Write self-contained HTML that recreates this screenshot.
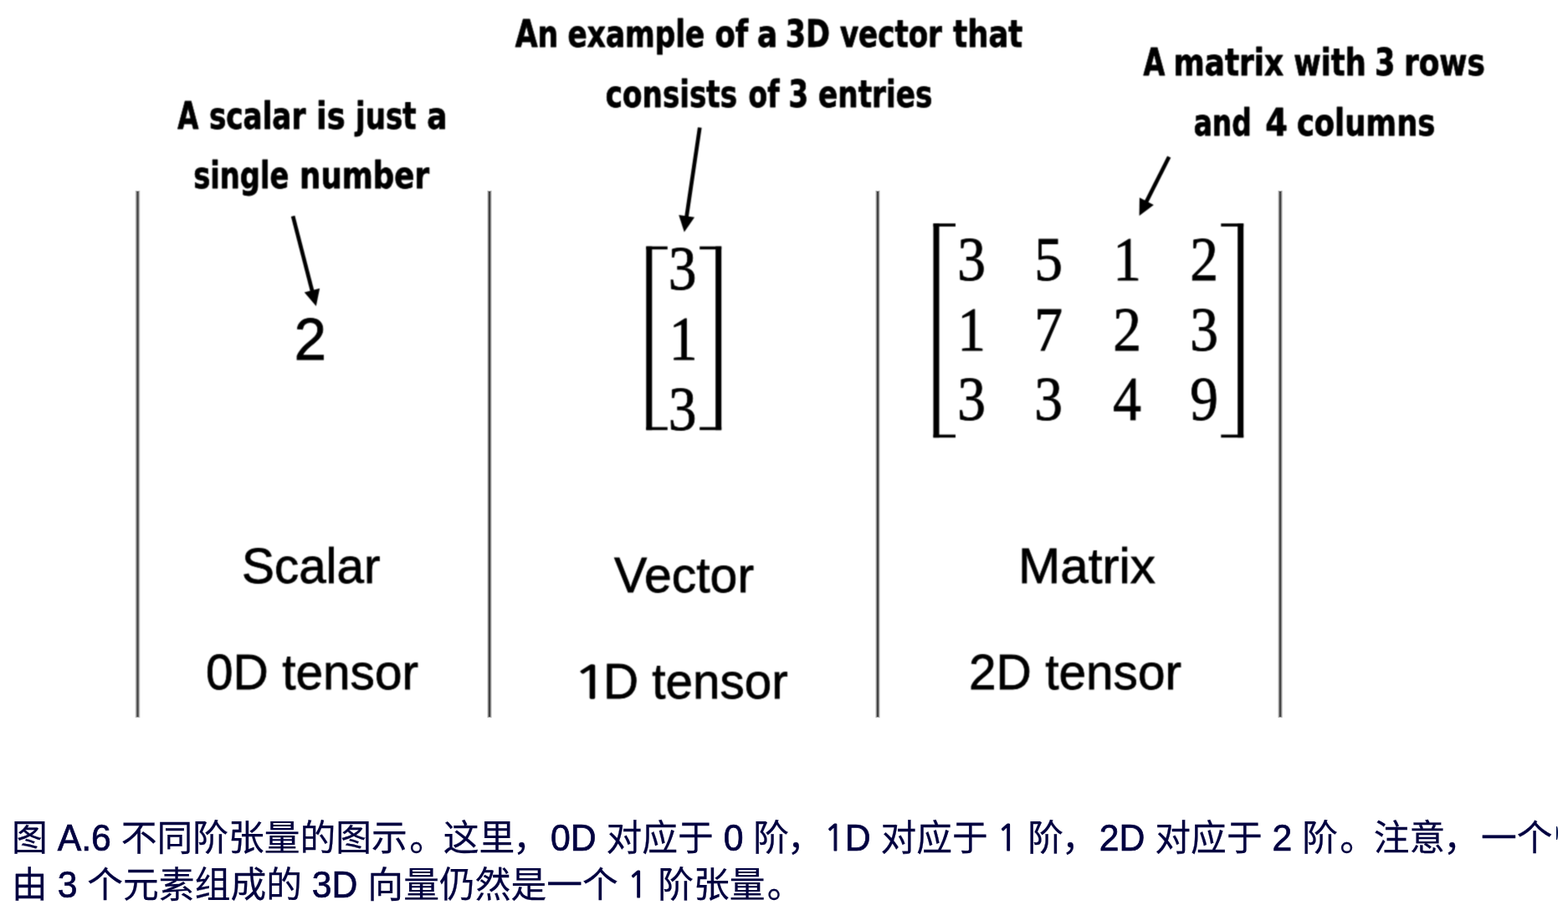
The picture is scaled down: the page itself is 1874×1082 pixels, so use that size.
<!DOCTYPE html>
<html lang="zh-CN">
<head>
<meta charset="utf-8">
<title>图 A.6 不同阶张量的图示</title>
<style>
html,body{margin:0;padding:0;background:#fff;}
body{width:1874px;height:1082px;overflow:hidden;position:relative;font-family:"Liberation Sans","Noto Sans CJK SC",sans-serif;}
#fig{position:absolute;left:0;top:0;width:1874px;height:900px;}
#fig text{fill:#000;}
.ann text{font-family:"DejaVu Sans Condensed","DejaVu Sans","Liberation Sans",sans-serif;font-weight:bold;font-size:45px;stroke:#000;stroke-width:0.8px;stroke-linejoin:round;}
.lab text{font-family:"Liberation Sans",sans-serif;font-size:59.5px;stroke:#000;stroke-width:0.8px;}
.num text{font-family:"Liberation Serif",serif;font-size:75px;text-anchor:middle;stroke:#000;stroke-width:0.9px;}
.lab text.one{font-family:"NanumGothic","Liberation Sans",sans-serif;stroke-width:1.3px;text-anchor:middle;}
.two{font-family:"Liberation Sans",sans-serif;font-size:69.5px;text-anchor:middle;stroke:#000;stroke-width:0.8px;}
.cap{position:absolute;left:13.7px;top:974.3px;width:1847.8px;height:120px;overflow:hidden;white-space:nowrap;will-change:transform;
 font-family:"Liberation Sans","Noto Sans CJK SC",sans-serif;font-size:42.77px;line-height:56px;color:#000040;margin:0;}
.cap .ln{position:absolute;left:0;white-space:nowrap;-webkit-text-stroke:0.25px #000040;}
.cap .l{display:inline-block;transform:scaleY(1.05);transform-origin:0 76.5%;-webkit-text-stroke:0.7px #000040;}
.cap .pc,.cap .pp{position:relative;left:-2.3px;}
.cap .pp{left:2.3px;}
.cap .o{display:inline-block;font-size:0.94em;width:0.5915em;text-align:center;position:relative;left:-0.8px;font-family:"NanumGothic","Liberation Sans",sans-serif;-webkit-text-stroke:1.1px #000040;}
.sliver{position:absolute;left:1859.6px;top:988px;width:2.2px;height:16px;background:#00104a;border-radius:0 60% 60% 0/0 50% 50% 0;}
</style>
</head>
<body>
<svg id="fig" width="1874" height="900" viewBox="0 0 1874 900">
 <filter id="soft" filterUnits="userSpaceOnUse" x="0" y="0" width="1874" height="900" color-interpolation-filters="sRGB">
  <feConvolveMatrix order="3" kernelMatrix="0.0361 0.1178 0.0361 0.1178 0.3846 0.1178 0.0361 0.1178 0.0361" edgeMode="none" preserveAlpha="false"/>
 </filter>
 <g>
  <rect x="161.50" y="227.80" width="6" height="630.40" fill="#d7d7d7"/>
  <rect x="162.50" y="228.40" width="4" height="629.20" fill="#969696"/>
  <rect x="163.50" y="229.00" width="2" height="628.00" fill="#454545"/>
  <rect x="582.00" y="227.80" width="6" height="630.40" fill="#d7d7d7"/>
  <rect x="583.00" y="228.40" width="4" height="629.20" fill="#969696"/>
  <rect x="584.00" y="229.00" width="2" height="628.00" fill="#454545"/>
  <rect x="1046.00" y="227.80" width="6" height="630.40" fill="#d7d7d7"/>
  <rect x="1047.00" y="228.40" width="4" height="629.20" fill="#969696"/>
  <rect x="1048.00" y="229.00" width="2" height="628.00" fill="#454545"/>
  <rect x="1527.10" y="227.80" width="6" height="630.40" fill="#d7d7d7"/>
  <rect x="1528.10" y="228.40" width="4" height="629.20" fill="#969696"/>
  <rect x="1529.10" y="229.00" width="2" height="628.00" fill="#454545"/>
 </g>
 <g filter="url(#soft)">
 <g class="ann">
  <text x="615.70" y="56.20" textLength="51.52" lengthAdjust="spacingAndGlyphs">An</text>
  <text x="678.55" y="56.20" textLength="163.72" lengthAdjust="spacingAndGlyphs">example</text>
  <text x="854.43" y="56.20" textLength="39.67" lengthAdjust="spacingAndGlyphs">of</text>
  <text x="905.02" y="56.20" textLength="24.13" lengthAdjust="spacingAndGlyphs">a</text>
  <text x="938.78" y="56.20" textLength="53.27" lengthAdjust="spacingAndGlyphs">3D</text>
  <text x="1003.90" y="56.20" textLength="122.00" lengthAdjust="spacingAndGlyphs">vector</text>
  <text x="1139.30" y="56.20" textLength="82.95" lengthAdjust="spacingAndGlyphs">that</text>

  <text x="723.86" y="127.50" textLength="157.15" lengthAdjust="spacingAndGlyphs">consists</text>
  <text x="894.59" y="127.50" textLength="36.84" lengthAdjust="spacingAndGlyphs">of</text>
  <text x="942.62" y="127.50" textLength="23.64" lengthAdjust="spacingAndGlyphs">3</text>
  <text x="978.05" y="127.50" textLength="136.24" lengthAdjust="spacingAndGlyphs">entries</text>

  <text x="212.20" y="154.00" textLength="25.08" lengthAdjust="spacingAndGlyphs">A</text>
  <text x="249.91" y="154.00" textLength="115.42" lengthAdjust="spacingAndGlyphs">scalar</text>
  <text x="378.06" y="154.00" textLength="34.63" lengthAdjust="spacingAndGlyphs">is</text>
  <text x="425.08" y="154.00" textLength="72.45" lengthAdjust="spacingAndGlyphs">just</text>
  <text x="510.31" y="154.00" textLength="24.24" lengthAdjust="spacingAndGlyphs">a</text>

  <text x="231.13" y="224.70" textLength="114.19" lengthAdjust="spacingAndGlyphs">single</text>
  <text x="358.06" y="224.70" textLength="154.99" lengthAdjust="spacingAndGlyphs">number</text>

  <text x="1366.40" y="90.00" textLength="25.76" lengthAdjust="spacingAndGlyphs">A</text>
  <text x="1402.55" y="90.00" textLength="131.59" lengthAdjust="spacingAndGlyphs">matrix</text>
  <text x="1546.33" y="90.00" textLength="86.40" lengthAdjust="spacingAndGlyphs">with</text>
  <text x="1642.97" y="90.00" textLength="24.37" lengthAdjust="spacingAndGlyphs">3</text>
  <text x="1677.94" y="90.00" textLength="97.01" lengthAdjust="spacingAndGlyphs">rows</text>

  <text x="1426.69" y="162.40" textLength="69.05" lengthAdjust="spacingAndGlyphs">and</text>
  <text x="1512.25" y="162.40" textLength="26.65" lengthAdjust="spacingAndGlyphs">4</text>
  <text x="1549.93" y="162.40" textLength="165.39" lengthAdjust="spacingAndGlyphs">columns</text>
 </g>
 <g fill="#000" stroke="#000" stroke-width="4.7" stroke-linecap="butt">
  <line x1="350.10" y1="258.40" x2="373.44" y2="349.05"/>
  <polygon stroke="none" points="377.80,366.00 363.74,349.48 382.14,344.75"/>
  <line x1="836.30" y1="152.50" x2="820.36" y2="260.29"/>
  <polygon stroke="none" points="817.80,277.60 811.25,256.92 830.05,259.70"/>
  <line x1="1397.20" y1="187.50" x2="1369.49" y2="242.38"/>
  <polygon stroke="none" points="1361.60,258.00 1361.91,236.31 1378.87,244.88"/>
 </g>
 <text class="two" x="370.8" y="430.3">2</text>
 <g class="num">
  <text transform="translate(815.50 346.00) scale(0.9 1)">3</text>
  <text transform="translate(816.50 430.00) scale(0.9 1)">1</text>
  <text transform="translate(815.50 513.50) scale(0.9 1)">3</text>
  <text transform="translate(1161.00 335.20) scale(0.9 1)">3</text>
  <text transform="translate(1253.20 335.20) scale(0.9 1)">5</text>
  <text transform="translate(1347.20 335.20) scale(0.9 1)">1</text>
  <text transform="translate(1439.10 335.20) scale(0.9 1)">2</text>
  <text transform="translate(1161.00 418.60) scale(0.9 1)">1</text>
  <text transform="translate(1253.20 418.60) scale(0.9 1)">7</text>
  <text transform="translate(1347.20 418.60) scale(0.9 1)">2</text>
  <text transform="translate(1439.10 418.60) scale(0.9 1)">3</text>
  <text transform="translate(1161.00 502.20) scale(0.9 1)">3</text>
  <text transform="translate(1253.20 502.20) scale(0.9 1)">3</text>
  <text transform="translate(1347.20 502.20) scale(0.9 1)">4</text>
  <text transform="translate(1439.10 502.20) scale(0.9 1)">9</text>
 </g>
 <g fill="#000">
  <rect x="772.30" y="294.60" width="7.00" height="219.60"/>
  <rect x="772.30" y="294.60" width="25.50" height="3.60"/>
  <rect x="772.30" y="510.60" width="25.50" height="3.60"/>
  <rect x="855.20" y="294.60" width="7.00" height="219.60"/>
  <rect x="836.20" y="294.60" width="26.00" height="3.60"/>
  <rect x="836.20" y="510.60" width="26.00" height="3.60"/>
  <rect x="1115.50" y="267.20" width="7.00" height="256.00"/>
  <rect x="1115.50" y="267.20" width="26.50" height="3.60"/>
  <rect x="1115.50" y="519.60" width="26.50" height="3.60"/>
  <rect x="1479.20" y="267.20" width="7.00" height="256.00"/>
  <rect x="1459.30" y="267.20" width="26.90" height="3.60"/>
  <rect x="1459.30" y="519.60" width="26.90" height="3.60"/>
 </g>
 <g class="lab">
  <text x="289.00" y="697.20" textLength="165.50" lengthAdjust="spacingAndGlyphs">Scalar</text>
  <text x="246.00" y="824.30" textLength="254.00" lengthAdjust="spacingAndGlyphs">0D tensor</text>
  <text x="734.00" y="708.20" textLength="167.00" lengthAdjust="spacingAndGlyphs">Vector</text>
  <text class="one" transform="translate(705.80 835.20) scale(1.3 1)" style="font-size:54.5px">1</text>
  <text x="721.00" y="835.20" textLength="220.60" lengthAdjust="spacingAndGlyphs">D tensor</text>
  <text x="1217.00" y="697.20" textLength="164.00" lengthAdjust="spacingAndGlyphs">Matrix</text>
  <text x="1158.00" y="824.30" textLength="254.00" lengthAdjust="spacingAndGlyphs">2D tensor</text>
 </g>
 </g>
</svg>
<p class="cap"><span class="ln" style="top:0px;left:0px">图 <span class="l">A.6</span> 不同阶张量的图示<span class="pp">。</span>这里<span class="pc">，</span><span class="l">0D</span> 对应于 <span class="l">0</span> 阶<span class="pc">，</span><span class="l"><span class="o">1</span>D</span> 对应于 <span class="l"><span class="o">1</span></span> 阶<span class="pc">，</span><span class="l">2D</span> 对应于 <span class="l">2</span> 阶<span class="pp">。</span>注意<span class="pc">，</span>一个</span><span class="ln" style="top:56px;left:0px">由 <span class="l">3</span> 个元素组成的 <span class="l">3D</span> 向量仍然是一个 <span class="l"><span class="o">1</span></span> 阶张量<span class="pp">。</span></span></p>
<div class="sliver"></div>
</body>
</html>
